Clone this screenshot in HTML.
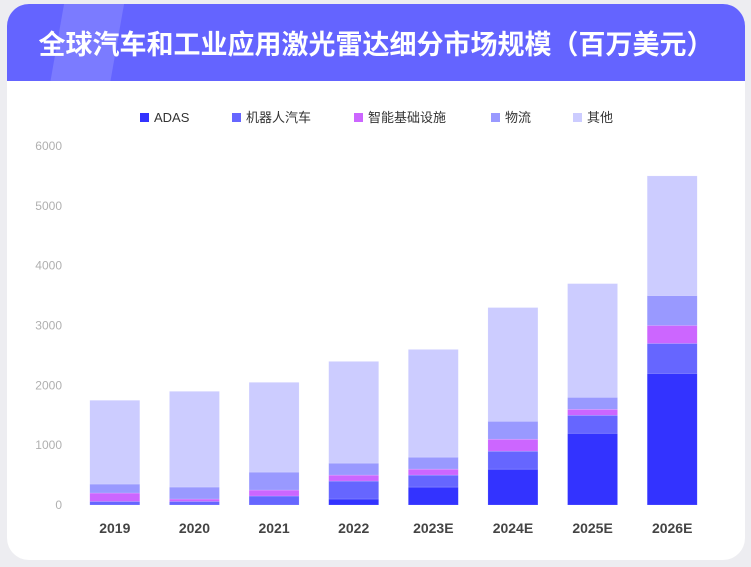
<!DOCTYPE html>
<html><head><meta charset="utf-8"><style>
body{margin:0;width:751px;height:567px;background:#ededf1;overflow:hidden;font-family:"Liberation Sans","Noto Sans CJK SC",sans-serif}
#card{position:absolute;left:7px;top:4px;width:738px;height:556px;background:#fff;border-radius:22px;overflow:hidden}
#hdr{position:absolute;left:0;top:0;width:738px;height:77px;background:#6464ff;overflow:hidden}
#hdr .sh{position:absolute;left:50px;top:-10px;width:60px;height:100px;background:rgba(255,255,255,0.15);transform:skewX(-10deg)}
#title{position:absolute;left:0;width:738px;top:21px;text-align:center;color:#fff;font-size:27px;font-weight:bold;letter-spacing:0;font-family:"Noto Sans CJK SC",sans-serif;line-height:36px}
svg{position:absolute;left:0;top:0}
</style></head><body>
<div id="card">
<div id="hdr"><div class="sh"></div>
<div id="title">全球汽车和工业应用激光雷达细分市场规模（百万美元）</div></div>
</div>
<svg id="chart" width="751" height="567"></svg>
<script>
const categories=["2019","2020","2021","2022","2023E","2024E","2025E","2026E"];
const seriesNames=["ADAS","机器人汽车","智能基础设施","物流","其他"];
const adas=[0,0,0,100,300,600,1200,2200];
const robot=[60,60,150,300,200,300,300,500];
const infra=[140,40,100,100,100,200,100,300];
const logistics=[150,200,300,200,200,300,200,500];
const other=[1400,1600,1500,1700,1800,1900,1900,2000];
const yTicks=[0,1000,2000,3000,4000,5000,6000];
const colors=["#3333ff","#6666ff","#cc66ff","#9999ff","#ccccff"];
const series=[adas,robot,infra,logistics,other];
const NS="http://www.w3.org/2000/svg";
const svg=document.getElementById('chart');
const x0=75,x1=712,y0=505,y1=146;
const band=(x1-x0)/categories.length;
function xc(i){return x0+band*(i+0.5);}
function ys(v){return y0-(v/6000)*(y0-y1);}
function el(t,a){const e=document.createElementNS(NS,t);for(const k in a)e.setAttribute(k,a[k]);svg.appendChild(e);return e;}
yTicks.forEach(t=>{const e=el('text',{x:62,y:ys(t)+4,'text-anchor':'end','font-size':12,fill:'#b0b0b0'});e.textContent=t;

});
categories.forEach((c,i)=>{let cum=0;
series.forEach((s,k)=>{const v=s[i];if(v>0){const r=el('rect',{x:xc(i)-25,y:ys(cum+v),width:50,height:ys(cum)-ys(cum+v),fill:colors[k],stroke:'rgba(255,255,255,0.3)','stroke-width':0.5});

}cum+=v;});
const t=el('text',{x:xc(i),y:533,'text-anchor':'middle','font-size':14,'font-weight':'bold',fill:'#444'});t.textContent=c;

});
const lx=[140,232,354,491,573];
seriesNames.forEach((n,k)=>{const g=el('g',{});


const r=document.createElementNS(NS,'rect');r.setAttribute('x',lx[k]);r.setAttribute('y',113);r.setAttribute('width',9);r.setAttribute('height',9);r.setAttribute('fill',colors[k]);g.appendChild(r);
const t=document.createElementNS(NS,'text');t.setAttribute('x',lx[k]+14);t.setAttribute('y',122);t.setAttribute('font-size',13);t.setAttribute('fill','#333');t.textContent=n;g.appendChild(t);});
</script>
</body></html>
